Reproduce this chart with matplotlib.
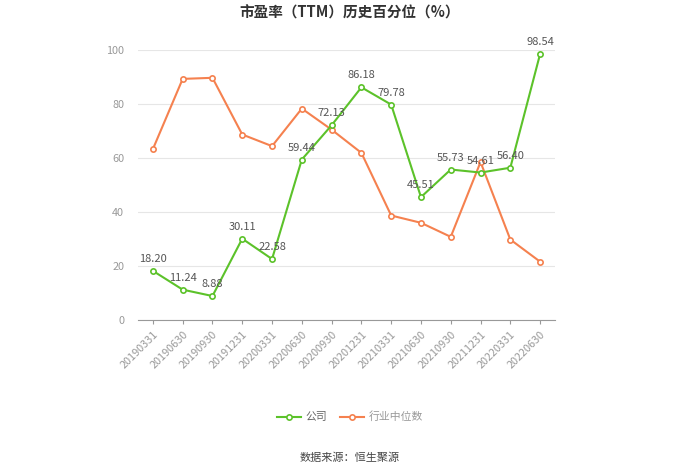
import matplotlib
matplotlib.use("Agg")
import matplotlib.pyplot as plt

plt.rcParams['font.family'] = ['Noto Sans CJK SC', 'DejaVu Sans']

dates = ["20190331", "20190630", "20190930", "20191231", "20200331", "20200630",
         "20200930", "20201231", "20210331", "20210630", "20210930", "20211231",
         "20220331", "20220630"]
company = [18.20, 11.24, 8.88, 30.11, 22.58, 59.44, 72.13, 86.18, 79.78, 45.51,
           55.73, 54.61, 56.40, 98.54]
industry = [63.3, 89.3, 89.7, 68.7, 64.4, 78.3, 70.5, 61.9, 38.7, 36.0, 30.8,
            58.5, 29.8, 21.6]
yticks = [0, 20, 40, 60, 80, 100]

green = '#5cc22a'
orange = '#f5814f'

fig = plt.figure(figsize=(7, 4.74), dpi=100)
ax = fig.add_axes([138/700, 1-320/474, (555-138)/700, (320-50)/474])

x = list(range(len(dates)))
ax.plot(x, company, color=green, lw=1.5, marker='o', ms=3.8, mfc='white',
        mec=green, mew=1.2, clip_on=False, zorder=4, label='公司')
ax.plot(x, industry, color=orange, lw=1.5, marker='o', ms=3.8, mfc='white',
        mec=orange, mew=1.2, clip_on=False, zorder=3, label='行业中位数')

for xi, v in zip(x, company):
    ax.annotate(f"{v:.2f}", (xi, v), xytext=(0, 5), textcoords='offset points',
                ha='center', va='bottom', fontsize=8, color='#555555', zorder=5)

ax.set_xlim(-0.5, len(dates) - 0.5)
ax.set_ylim(0, 100)
ax.set_yticks(yticks)
ax.set_yticklabels([str(t) for t in yticks])
ax.set_xticks(x)
ax.set_xticklabels(dates, rotation=45, ha='right', rotation_mode='anchor')
ax.tick_params(axis='x', colors='#999999', labelsize=7.8, length=3, width=0.8,
               labelcolor='#999999')
ax.tick_params(axis='y', length=0, labelsize=7.8, labelcolor='#999999', pad=10)
ax.grid(axis='y', color='#e6e6e6', lw=0.8)
ax.set_axisbelow(True)
for s in ['top', 'right', 'left']:
    ax.spines[s].set_visible(False)
ax.spines['bottom'].set_color('#999999')
ax.spines['bottom'].set_linewidth(0.8)

fig.text(0.5, 1-13/474, '市盈率（TTM）历史百分位（%）', ha='center', va='center',
         fontsize=10.5, fontweight='bold', color='#333333')

leg = fig.legend(loc='center', bbox_to_anchor=(0.5, 1-417/474), ncol=2,
                 frameon=False, fontsize=7.8, handlelength=2.2, columnspacing=1.2,
                 handletextpad=0.4)
for t in leg.get_texts():
    t.set_color('#666666')
leg.get_texts()[1].set_color('#999999')

fig.text(0.5, 1-458/474, '数据来源：恒生聚源', ha='center', va='center',
         fontsize=8, color='#444444')

fig.savefig('out.png', dpi=100)
